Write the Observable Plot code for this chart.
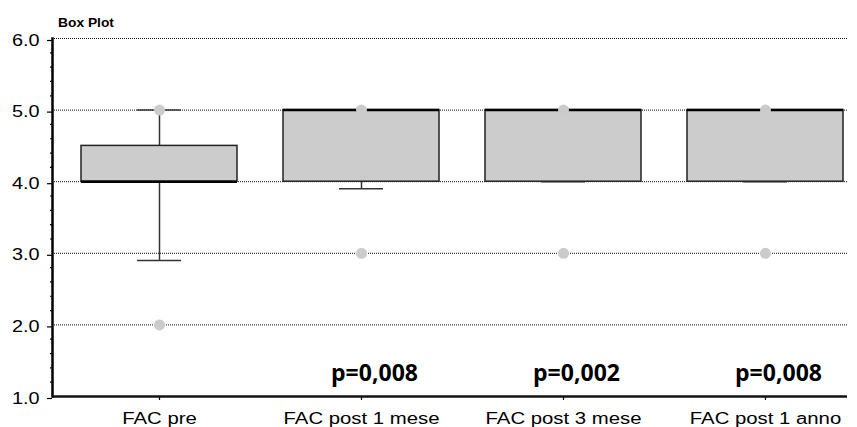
<!DOCTYPE html>
<html>
<head>
<meta charset="utf-8">
<script src="https://cdn.jsdelivr.net/npm/d3@7"></script>
<script src="https://cdn.jsdelivr.net/npm/@observablehq/plot@0.6"></script>
<style>
  body { margin: 0; background: #fff; }
  #title { box-sizing: border-box; height: 30px; padding: 13px 0 0 58px; }
  #title span { display: inline-block; font: bold 12px "Liberation Sans", Arial, sans-serif; line-height: 13px; color: #000; transform: scaleX(1.15); transform-origin: left center; }
  #chart svg { display: block; }
</style>
</head>
<body>
<div id="title"><span>Box Plot</span></div>
<div id="chart"></div>
<script>
// ---- data ----
const categories = ["FAC pre", "FAC post 1 mese", "FAC post 3 mese", "FAC post 1 anno"];
const q1 = [4.0, 4.0, 4.0, 4.0];
const q3 = [4.5, 5.0, 5.0, 5.0];
const medians = [4.0, 5.0, 5.0, 5.0];
const whiskerLow = [2.9, 3.9, 4.0, 4.0];
const whiskerHigh = [5.0, 5.0, 5.0, 5.0];
const outlierCategory = ["FAC pre", "FAC pre", "FAC post 1 mese", "FAC post 1 mese", "FAC post 3 mese", "FAC post 3 mese", "FAC post 1 anno", "FAC post 1 anno"];
const outlierValue = [5.0, 2.0, 5.0, 3.0, 5.0, 3.0, 5.0, 3.0];
const pLabels = ["", "p=0,008", "p=0,002", "p=0,008"];
const yTicks = [1, 2, 3, 4, 5, 6];
const yMinorTicks = [1.2, 1.4, 1.6, 1.8, 2.2, 2.4, 2.6, 2.8, 3.2, 3.4, 3.6, 3.8, 4.2, 4.4, 4.6, 4.8, 5.2, 5.4, 5.6, 5.8];
const gridValues = [2, 3, 4, 5, 6];

// ---- tables built from the arrays ----
const boxes = categories.map((c, i) => ({
  cat: c, q1: q1[i], q3: q3[i], med: medians[i],
  lo: whiskerLow[i], hi: whiskerHigh[i], p: pLabels[i]
}));
const outliers = outlierCategory.map((c, i) => ({ cat: c, v: outlierValue[i] }));

const capInset = 56;

const chart = Plot.plot({
  width: 857,
  height: 397,
  marginLeft: 52,
  marginRight: 10,
  marginTop: 8,
  marginBottom: 31,
  style: { fontFamily: '"Liberation Sans", Arial, sans-serif', fontSize: "16px", color: "#000", background: "#fff" },
  x: { type: "band", domain: categories, range: [58, 866], paddingInner: 0.23, paddingOuter: 0.115 },
  y: { domain: [1, 6] },
  marks: [
    Plot.ruleY(gridValues, { stroke: "#111", strokeWidth: 1, strokeDasharray: "1,1" }),
    // whiskers
    Plot.ruleX(boxes, { x: "cat", y1: "lo", y2: "q1", stroke: "#333", strokeWidth: 1.5 }),
    Plot.ruleX(boxes, { x: "cat", y1: "q3", y2: "hi", stroke: "#333", strokeWidth: 1.5 }),
    Plot.tickY(boxes, { x: "cat", y: "lo", stroke: "#333", strokeWidth: 1.5, insetLeft: capInset, insetRight: capInset }),
    Plot.tickY(boxes, { x: "cat", y: "hi", stroke: "#333", strokeWidth: 1.5, insetLeft: capInset, insetRight: capInset }),
    // boxes
    Plot.barY(boxes, { x: "cat", y1: "q1", y2: "q3", fill: "#cccccc", stroke: "#222", strokeWidth: 1.5 }),
    Plot.tickY(boxes, { x: "cat", y: "med", stroke: "#000", strokeWidth: 2.5 }),
    // outliers
    Plot.dot(outliers, { x: "cat", y: "v", r: 5.5, fill: "#cbcbcb", stroke: "none" }),
    // p-values
    Plot.text(boxes.filter(d => d.p), { x: "cat", text: "p", frameAnchor: "bottom", dy: -23, dx: 13, lineAnchor: "middle", fontFamily: '"Open Sans", sans-serif', fontWeight: "bold", fontSize: 23, fill: "#000" }),
    // axes
    Plot.axisY({ ticks: yTicks, tickSize: 5, tickPadding: 8, tickFormat: d3.format(".1f"), dy: 2, strokeWidth: 1.2 }),
    Plot.axisY({ ticks: yMinorTicks, tickSize: 2, tickFormat: () => "", strokeWidth: 1.2 }),
    Plot.axisX({ tickSize: 4, tickPadding: 12, label: null, strokeWidth: 1.2 }),
    Plot.frame({ anchor: "left", stroke: "#000", strokeWidth: 2.5 }),
    Plot.ruleY([1], { stroke: "#111", strokeWidth: 2.5 })
  ]
});

document.getElementById("chart").appendChild(chart);

// The reference's tick labels are horizontally stretched; mimic with textLength.
const stretch = { "x-axis tick label": 1.27, "y-axis tick label": 1.24 };
for (const [label, k] of Object.entries(stretch)) {
  for (const t of chart.querySelectorAll(`g[aria-label="${label}"] text`)) {
    const w = t.getComputedTextLength();
    if (w > 0) {
      t.setAttribute("textLength", (w * k).toFixed(1));
      t.setAttribute("lengthAdjust", "spacingAndGlyphs");
    }
  }
}
</script>
</body>
</html>
